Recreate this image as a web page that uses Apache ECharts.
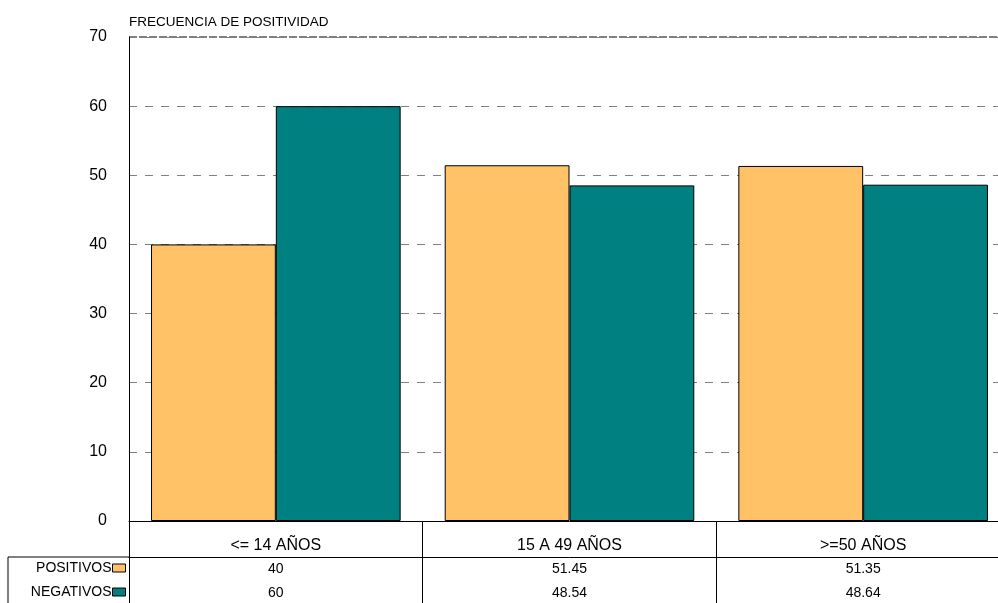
<!DOCTYPE html>
<html>
<head>
<meta charset="utf-8">
<script src="https://cdn.jsdelivr.net/npm/echarts@6/dist/echarts.min.js"></script>
<style>
  html, body { margin: 0; padding: 0; background: #fff; overflow: hidden; }
  #chart { width: 1010px; height: 603px; }
</style>
</head>
<body>
<div id="chart"></div>
<script>
const categories = ['<= 14 AÑOS', '15 A 49 AÑOS', '>=50 AÑOS'];
const positivos = [40, 51.45, 51.35];
const negativos = [60, 48.54, 48.64];
const yTicks = { min: 0, max: 70, interval: 10 };

const font = 'Liberation Sans, Arial, sans-serif';
const chart = echarts.init(document.getElementById('chart'));

// one legend per row so the text ends flush against its key, as in the table
function legendRow(name, top) {
  return {
    orient: 'horizontal',
    right: 1010 - 126, top: top,
    align: 'right',
    icon: 'rect',
    itemWidth: 13, itemHeight: 8, itemGap: 0,
    padding: 0,
    textStyle: { fontSize: 14, color: '#000', fontFamily: font, padding: [0, -4, 0, 0] },
    itemStyle: { borderColor: '#000', borderWidth: 1 },
    data: [name]
  };
}

chart.setOption({
  animation: false,
  textStyle: { fontFamily: font, color: '#000' },
  title: {
    text: 'FRECUENCIA DE POSITIVIDAD',
    left: 124, top: 10,
    textStyle: { fontSize: 13.5, fontWeight: 'normal', color: '#000', fontFamily: font }
  },
  legend: [legendRow('POSITIVOS', 561), legendRow('NEGATIVOS', 585)],
  grid: { left: 129, top: 37, right: 0, bottom: 82 },
  xAxis: [
    {
      type: 'category', data: categories, position: 'bottom',
      axisLine: { lineStyle: { color: '#000', width: 1 } },
      axisTick: { show: true, length: 82, lineStyle: { color: '#000' } },
      axisLabel: { fontSize: 16, color: '#000', margin: 17 },
      splitLine: { show: false }
    },
    {
      type: 'category', data: positivos.map(String), position: 'bottom', offset: 36,
      axisLine: { lineStyle: { color: '#000', width: 1 } },
      axisTick: { show: false },
      axisLabel: { fontSize: 14, color: '#000', margin: 5 }
    },
    {
      type: 'category', data: negativos.map(String), position: 'bottom', offset: 36,
      axisLine: { show: false },
      axisTick: { show: false },
      axisLabel: { fontSize: 14, color: '#000', margin: 29 }
    }
  ],
  yAxis: {
    type: 'value', min: yTicks.min, max: yTicks.max, interval: yTicks.interval,
    axisLine: { show: true, lineStyle: { color: '#000' } },
    axisTick: { show: false },
    axisLabel: { fontSize: 16, color: '#000', margin: 22 },
    splitLine: { show: true, lineStyle: { color: '#808080', type: [8, 8], width: 1 } }
  },
  series: [
    {
      name: 'POSITIVOS', type: 'bar', data: positivos, xAxisIndex: 0,
      barGap: '0%', barCategoryGap: '15%',
      itemStyle: { color: '#FFC266', borderColor: '#000', borderWidth: 1 }
    },
    {
      name: 'NEGATIVOS', type: 'bar', data: negativos, xAxisIndex: 0,
      itemStyle: { color: '#008080', borderColor: '#000', borderWidth: 1 }
    }
  ],
  graphic: [
    // table borders for the legend column
    { type: 'line', shape: { x1: 8, y1: 557, x2: 129, y2: 557 }, style: { stroke: '#000', lineWidth: 1 } },
    { type: 'line', shape: { x1: 8, y1: 557, x2: 8, y2: 603 }, style: { stroke: '#000', lineWidth: 1 } },
    // plot top border
    { type: 'line', shape: { x1: 129, y1: 37, x2: 1010, y2: 37 }, style: { stroke: '#000', lineWidth: 1, lineDash: [8, 2] } }
  ]
});
</script>
</body>
</html>
